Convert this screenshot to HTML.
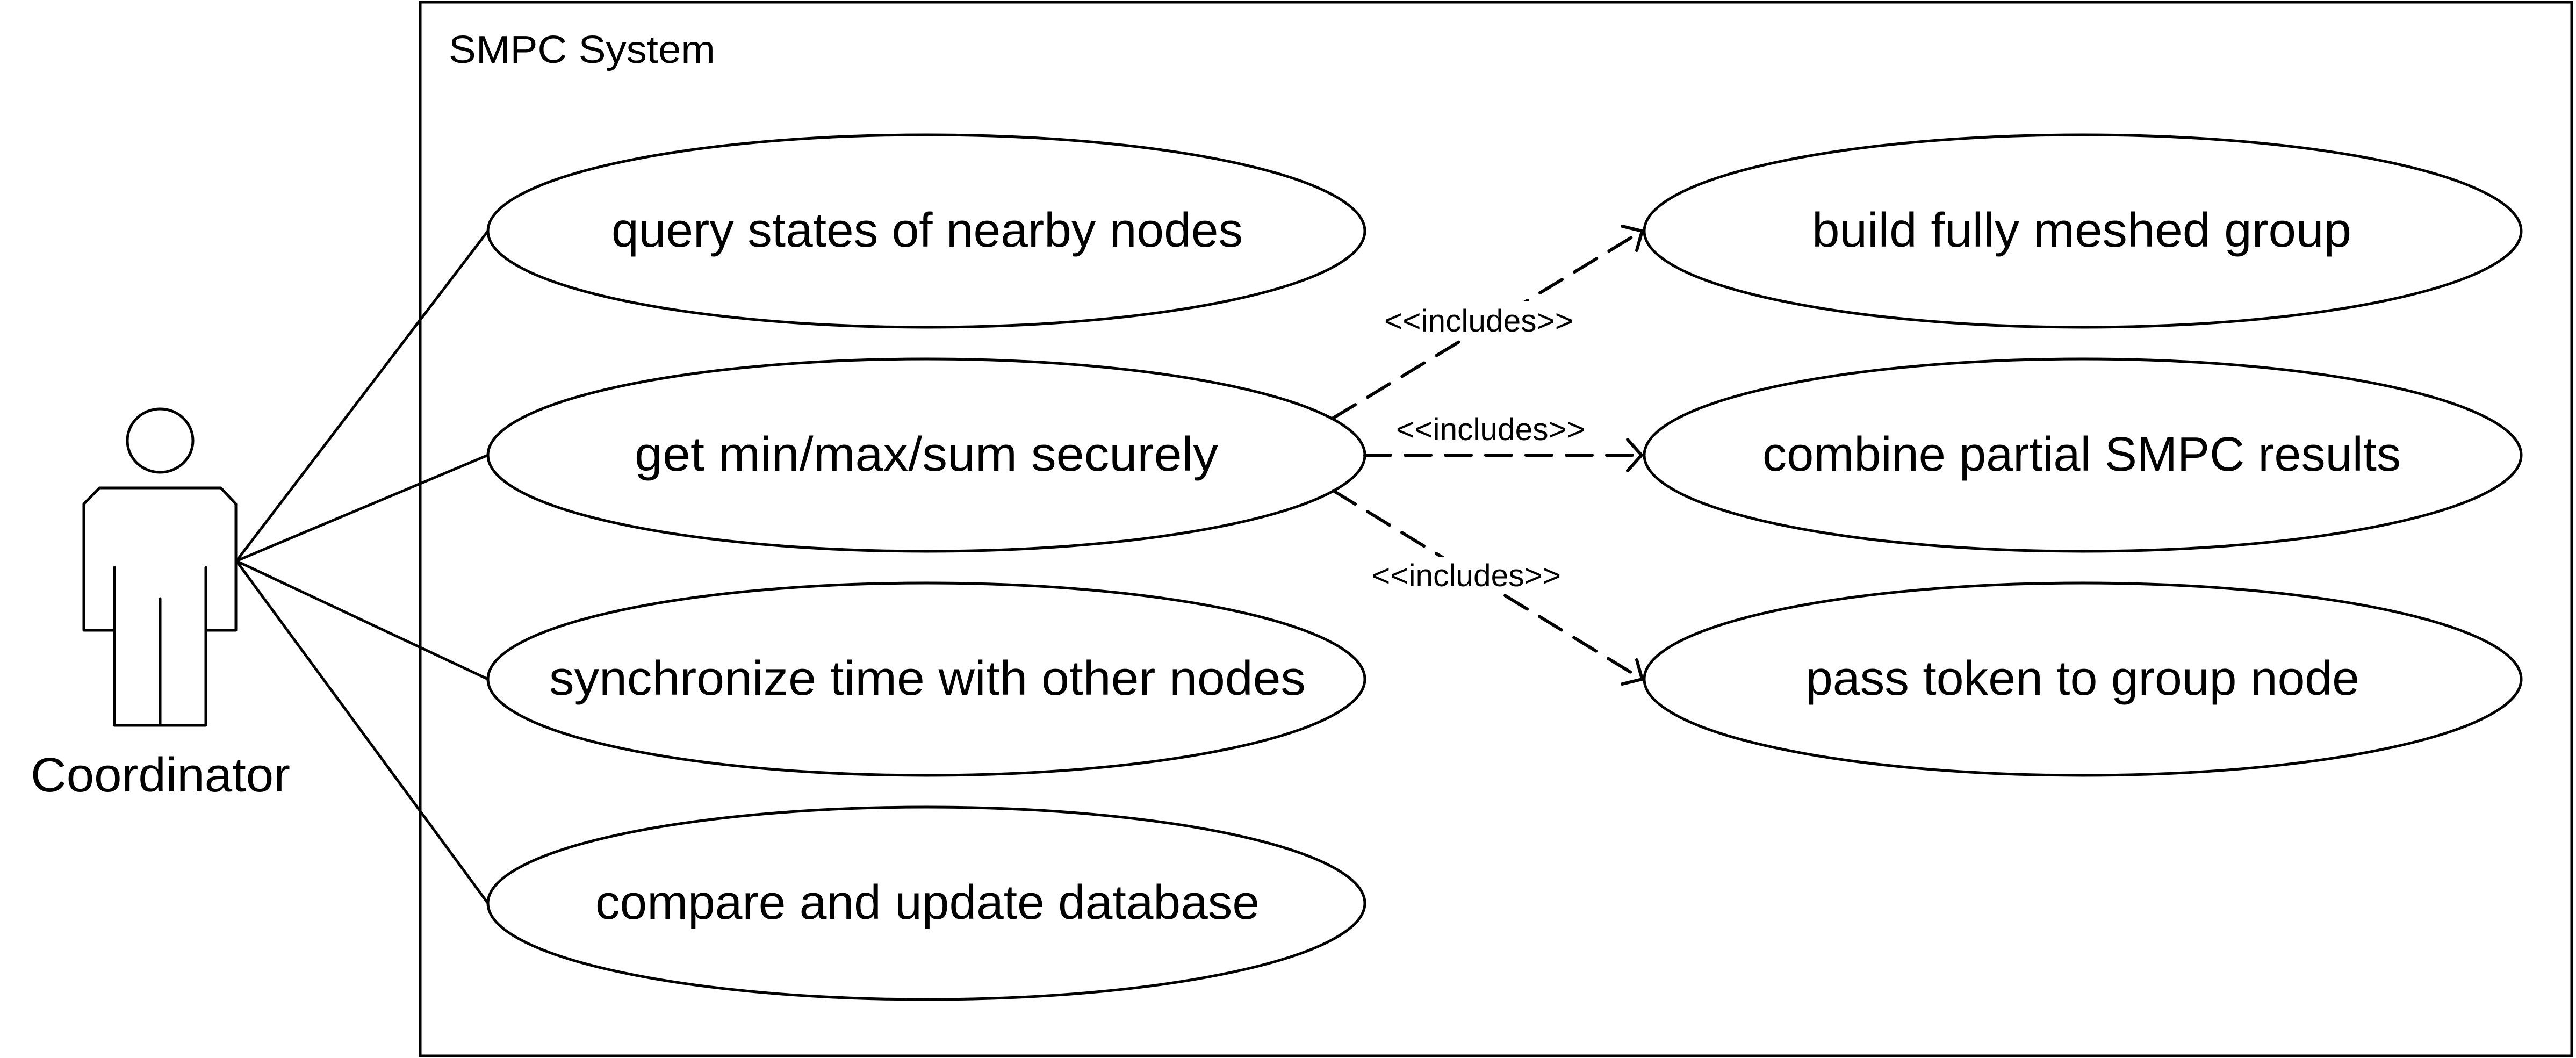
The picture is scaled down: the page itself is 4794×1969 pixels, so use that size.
<!DOCTYPE html>
<html><head><meta charset="utf-8"><style>
html,body{margin:0;padding:0;background:#fff;}
svg{display:block;}
text{font-family:"Liberation Sans",sans-serif;fill:#000;}
</style></head><body>
<svg width="4794" height="1969" viewBox="0 0 4794 1969" xmlns="http://www.w3.org/2000/svg">
<rect width="4794" height="1969" fill="#fff"/>
<!-- system boundary -->
<rect x="782" y="4" width="4004" height="1961" fill="none" stroke="#000" stroke-width="5"/>
<text x="835" y="117" font-size="72" textLength="496" lengthAdjust="spacingAndGlyphs">SMPC System</text>

<!-- actor -->
<g fill="none" stroke="#000" stroke-width="5" stroke-linejoin="round" stroke-linecap="round">
<ellipse cx="298" cy="820" rx="61" ry="59"/>
<path d="M213 1173 L156 1173 L156 938 L185 908 L411 908 L439 938 L439 1173 L383 1173"/>
<path d="M213 1056 L213 1350 L383 1350 L383 1056"/>
<path d="M298 1114 L298 1350"/>
<!-- associations -->
<path d="M440 1044 L908 430"/>
<path d="M440 1044 L908 847"/>
<path d="M440 1044 L908 1264"/>
<path d="M440 1044 L908 1681"/>
</g>
<text x="57" y="1473" font-size="90" textLength="483" lengthAdjust="spacingAndGlyphs">Coordinator</text>

<!-- use cases -->
<g fill="#fff" stroke="#000" stroke-width="5">
<ellipse cx="1724" cy="430" rx="816" ry="179"/>
<ellipse cx="1724" cy="847" rx="816" ry="179"/>
<ellipse cx="1724" cy="1264" rx="816" ry="179"/>
<ellipse cx="1724" cy="1681" rx="816" ry="179"/>
<ellipse cx="3876" cy="430" rx="816" ry="179"/>
<ellipse cx="3876" cy="847" rx="816" ry="179"/>
<ellipse cx="3876" cy="1264" rx="816" ry="179"/>
</g>
<g font-size="90" lengthAdjust="spacingAndGlyphs">
<text x="1138" y="459" textLength="1175" lengthAdjust="spacingAndGlyphs">query states of nearby nodes</text>
<text x="1181" y="876" textLength="1086" lengthAdjust="spacingAndGlyphs">get min/max/sum securely</text>
<text x="1022" y="1293" textLength="1408" lengthAdjust="spacingAndGlyphs">synchronize time with other nodes</text>
<text x="1108" y="1710" textLength="1236" lengthAdjust="spacingAndGlyphs">compare and update database</text>
<text x="3372" y="459" textLength="1004" lengthAdjust="spacingAndGlyphs">build fully meshed group</text>
<text x="3280" y="876" textLength="1188" lengthAdjust="spacingAndGlyphs">combine partial SMPC results</text>
<text x="3360" y="1293" textLength="1031" lengthAdjust="spacingAndGlyphs">pass token to group node</text>
</g>

<!-- include dependencies -->
<g fill="none" stroke="#000" stroke-width="6" stroke-linecap="round" stroke-dasharray="48 27">
<path d="M2481 778 L3056 430"/>
<path d="M2540 847 L3052 847"/>
<path d="M2481 913 L3056 1264"/>
</g>
<g fill="none" stroke="#000" stroke-width="6" stroke-linecap="round">
<path d="M3029 818 L3055 847 L3029 876"/>
<path d="M3019 421 L3056 430 L3046 466"/>
<path d="M3046 1228 L3056 1264 L3019 1273"/>
</g>
<!-- label backgrounds over dashed lines -->
<rect x="2570" y="560" width="362" height="70" fill="#fff"/>
<rect x="2550" y="1036" width="362" height="70" fill="#fff"/>
<g font-size="58">
<text x="2576" y="617" textLength="352" lengthAdjust="spacingAndGlyphs">&lt;&lt;includes&gt;&gt;</text>
<text x="2598" y="819" textLength="352" lengthAdjust="spacingAndGlyphs">&lt;&lt;includes&gt;&gt;</text>
<text x="2553" y="1091" textLength="352" lengthAdjust="spacingAndGlyphs">&lt;&lt;includes&gt;&gt;</text>
</g>
</svg>
</body></html>
